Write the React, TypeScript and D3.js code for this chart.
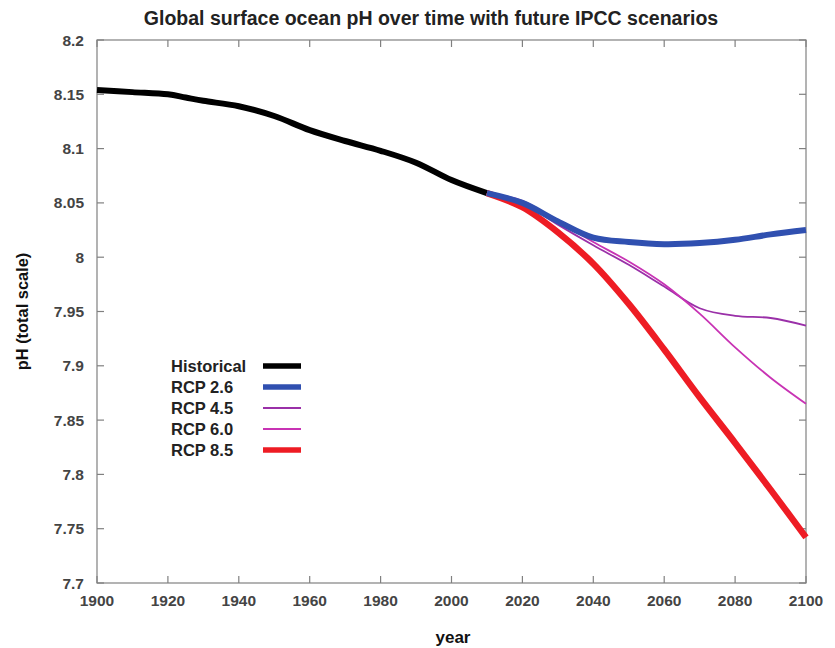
import React from "react";
import * as d3 from "d3";

const historicalYears = [1900, 1910, 1920, 1925, 1930, 1940, 1950, 1960, 1970, 1980, 1990, 2000, 2010];
const historicalPH = [8.154, 8.152, 8.150, 8.147, 8.144, 8.139, 8.130, 8.117, 8.107, 8.098, 8.087, 8.071, 8.059];

const futureYears = [2010, 2020, 2030, 2040, 2050, 2060, 2070, 2080, 2090, 2100];
const rcp26 = [8.059, 8.050, 8.033, 8.018, 8.014, 8.012, 8.013, 8.016, 8.021, 8.025];
const rcp45 = [8.059, 8.050, 8.030, 8.011, 7.993, 7.973, 7.953, 7.946, 7.944, 7.937];
const rcp60 = [8.059, 8.052, 8.033, 8.014, 7.996, 7.975, 7.948, 7.917, 7.889, 7.865];
const rcp85 = [8.059, 8.046, 8.023, 7.994, 7.957, 7.915, 7.871, 7.829, 7.786, 7.742];

const xTicks = [1900, 1920, 1940, 1960, 1980, 2000, 2020, 2040, 2060, 2080, 2100];
const yTicks = [7.7, 7.75, 7.8, 7.85, 7.9, 7.95, 8, 8.05, 8.1, 8.15, 8.2];

const seriesNames = ["Historical", "RCP 2.6", "RCP 4.5", "RCP 6.0", "RCP 8.5"];
const seriesColors = ["#000000", "#3050b0", "#9a30a8", "#c833b4", "#ee1c24"];
const seriesWidths = [6, 6, 1.8, 1.8, 6.5];

const W = 835, H = 648;
const left = 97, right = 806, top = 40, bottom = 583;

export default function App() {
  const x = d3.scaleLinear().domain([1900, 2100]).range([left, right]);
  const y = d3.scaleLinear().domain([7.7, 8.2]).range([bottom, top]);
  const line = d3
    .line<[number, number]>()
    .x((d) => x(d[0]))
    .y((d) => y(d[1]))
    .curve(d3.curveCatmullRom.alpha(0.5));

  const series: { data: number[]; years: number[]; idx: number }[] = [
    { data: historicalPH, years: historicalYears, idx: 0 },
    { data: rcp85, years: futureYears, idx: 4 },
    { data: rcp45, years: futureYears, idx: 2 },
    { data: rcp60, years: futureYears, idx: 3 },
    { data: rcp26, years: futureYears, idx: 1 },
  ];

  const axisColor = "#808080";
  const tickLen = 7;
  const labelColor = "#444";
  const font = "'Liberation Sans', Arial, Helvetica, sans-serif";

  return (
    <svg
      width={W}
      height={H}
      style={{ position: "absolute", left: 0, top: 0, background: "#fff" }}
      fontFamily={font}
    >
      <rect x={0} y={0} width={W} height={H} fill="#fff" />
      <text x={431} y={25} textAnchor="middle" fontSize={19.5} fontWeight="bold" fill="#222">
        Global surface ocean pH over time with future IPCC scenarios
      </text>

      <rect x={left} y={top} width={right - left} height={bottom - top} fill="none" stroke={axisColor} strokeWidth={1.2} />

      {xTicks.map((t) => (
        <g key={"x" + t}>
          <line x1={x(t)} x2={x(t)} y1={bottom} y2={bottom - tickLen} stroke={axisColor} strokeWidth={1.2} />
          <line x1={x(t)} x2={x(t)} y1={top} y2={top + tickLen} stroke={axisColor} strokeWidth={1.2} />
          <text x={x(t)} y={606} textAnchor="middle" fontSize={15.5} fontWeight="bold" fill={labelColor}>
            {t}
          </text>
        </g>
      ))}
      {yTicks.map((t) => (
        <g key={"y" + t}>
          <line x1={left} x2={left + tickLen} y1={y(t)} y2={y(t)} stroke={axisColor} strokeWidth={1.2} />
          <line x1={right} x2={right - tickLen} y1={y(t)} y2={y(t)} stroke={axisColor} strokeWidth={1.2} />
          <text x={84} y={y(t) + 5.5} textAnchor="end" fontSize={15.5} fontWeight="bold" fill={labelColor}>
            {String(+t.toFixed(2))}
          </text>
        </g>
      ))}

      <text x={453} y={643} textAnchor="middle" fontSize={17} fontWeight="bold" fill="#111">
        year
      </text>
      <text
        transform={`translate(28, ${(top + bottom) / 2}) rotate(-90)`}
        textAnchor="middle"
        fontSize={16.4}
        fontWeight="bold"
        fill="#111"
      >
        pH (total scale)
      </text>

      {series.map((s) => (
        <path
          key={s.idx}
          d={line(s.years.map((yr, i) => [yr, s.data[i]] as [number, number])) || ""}
          fill="none"
          stroke={seriesColors[s.idx]}
          strokeWidth={seriesWidths[s.idx]}
          strokeLinejoin="round"
          strokeLinecap="butt"
        />
      ))}

      {seriesNames.map((name, i) => {
        const ly = 366 + i * 21;
        return (
          <g key={name}>
            <text x={171} y={ly + 6} fontSize={16.5} fontWeight="bold" fill="#222">
              {name}
            </text>
            <line x1={263} x2={301} y1={ly} y2={ly} stroke={seriesColors[i]} strokeWidth={seriesWidths[i] === 1.8 ? 2 : 5.5} />
          </g>
        );
      })}
    </svg>
  );
}
